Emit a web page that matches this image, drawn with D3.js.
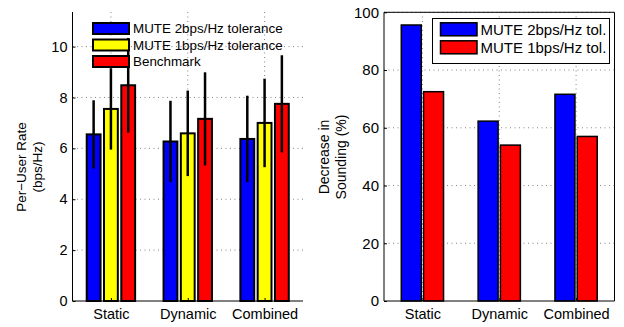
<!DOCTYPE html>
<html>
<head>
<meta charset="utf-8">
<script src="https://cdn.jsdelivr.net/npm/d3@7"></script>
<style>
  body { margin: 0; background: #fff; }
  svg { display: block; font-family: "Liberation Sans", Arial, sans-serif; }
</style>
</head>
<body>
<svg id="chart" width="624" height="327"></svg>
<script>
// categories shared by both panels
const categories = ["Static", "Dynamic", "Combined"];

// left panel: per-user rate (mean +/- std)
const rateSeries = ["MUTE 2bps/Hz tolerance", "MUTE 1bps/Hz tolerance", "Benchmark"];
const rateColors = ["#0000ff", "#ffff00", "#ff0000"];
const rateMean = [
  [6.55, 6.27, 6.37],
  [7.55, 6.59, 7.00],
  [8.48, 7.16, 7.75]
];
const rateErr = [
  [1.34, 1.60, 1.70],
  [1.60, 1.68, 1.74],
  [1.86, 1.83, 1.91]
];
const rateTicks = [0, 2, 4, 6, 8, 10];

// right panel: decrease in sounding (%)
const soundSeries = ["MUTE 2bps/Hz tol.", "MUTE 1bps/Hz tol."];
const soundColors = ["#0000ff", "#ff0000"];
const soundValues = [
  [95.6, 62.3, 71.6],
  [72.5, 54.0, 57.0]
];
const soundTicks = [0, 20, 40, 60, 80, 100];

const svg = d3.select("#chart");

function gridLines(g, x, y, xTicks, yTicks, x0, x1, y0, y1) {
  const grid = g.append("g")
    .attr("stroke", "#666")
    .attr("stroke-width", 0.8)
    .attr("stroke-dasharray", "1,3.5");
  grid.selectAll("line.h").data(yTicks.filter(t => t > 0)).join("line")
    .attr("x1", x0).attr("x2", x1)
    .attr("y1", d => y(d)).attr("y2", d => y(d));
  grid.selectAll("line.v").data(xTicks).join("line")
    .attr("x1", d => x(d)).attr("x2", d => x(d))
    .attr("y1", y0).attr("y2", y1);
}

function styleAxis(a, size) {
  a.attr("font-size", null).attr("font-family", null);
  a.selectAll(".domain").attr("stroke", "#000").attr("stroke-width", 1);
  a.selectAll("text")
    .style("font-size", size + "px")
    .style("font-family", "'Liberation Sans', Arial, sans-serif")
    .attr("fill", "#000");
}

// ---------- left panel ----------
{
  const left = 72.5, right = 303, top = 12, bottom = 301;
  const x = d3.scaleLinear().domain([0.5, 3.5]).range([left, right]);
  const y = d3.scaleLinear().domain([0, 11.36]).range([bottom, top]);
  const g = svg.append("g");
  const idx = categories.map((c, i) => i + 1);

  gridLines(g, x, y, idx, rateTicks, left, right, bottom, top);

  const bw = 0.18, step = 0.225;
  rateMean.forEach((vals, s) => {
    g.append("g").selectAll("rect").data(vals).join("rect")
      .attr("x", (d, i) => x(i + 1 + (s - 1) * step - bw / 2))
      .attr("width", x(bw) - x(0))
      .attr("y", d => y(d))
      .attr("height", d => y(0) - y(d))
      .attr("fill", rateColors[s])
      .attr("stroke", "#000")
      .attr("stroke-width", 2);
  });
  rateMean.forEach((vals, s) => {
    g.append("g").selectAll("line").data(vals).join("line")
      .attr("x1", (d, i) => x(i + 1 + (s - 1) * step))
      .attr("x2", (d, i) => x(i + 1 + (s - 1) * step))
      .attr("y1", (d, i) => y(d - rateErr[s][i]))
      .attr("y2", (d, i) => y(d + rateErr[s][i]))
      .attr("stroke", "#000")
      .attr("stroke-width", 2.5);
  });

  // axes
  const ya = g.append("g").attr("transform", `translate(${left},0)`)
    .call(d3.axisLeft(y).tickValues(rateTicks).tickSize(-3).tickPadding(5));
  ya.select(".domain").attr("d", `M0,${bottom}V${top}`);
  const xa = g.append("g").attr("transform", `translate(0,${bottom})`)
    .call(d3.axisBottom(x).tickValues(idx).tickFormat((d, i) => categories[i]).tickSize(-3).tickPadding(8));
  xa.select(".domain").attr("d", `M${left},0H${right}`);
  styleAxis(ya, 14.5);
  styleAxis(xa, 14.5);

  g.append("text")
    .attr("transform", "translate(26,167) rotate(-90)")
    .attr("text-anchor", "middle").attr("font-size", 13.5)
    .selectAll("tspan").data(["Per\u2212User Rate", "(bps/Hz)"]).join("tspan")
    .attr("x", 0).attr("dy", (d, i) => i === 0 ? 0 : 16)
    .text(d => d);

  // legend (no frame)
  const lg = g.append("g");
  rateSeries.forEach((name, s) => {
    const cy = 28.5 + s * 16.5;
    lg.append("rect")
      .attr("x", 93).attr("y", cy - 5.5).attr("width", 36).attr("height", 11)
      .attr("fill", rateColors[s]).attr("stroke", "#000").attr("stroke-width", 2);
    lg.append("text")
      .attr("x", 133).attr("y", cy).attr("dy", "0.35em")
      .attr("font-size", 13.4).text(name);
  });
}

// ---------- right panel ----------
{
  const left = 384, right = 614.5, top = 12.3, bottom = 301;
  const x = d3.scaleLinear().domain([0.5, 3.5]).range([left, right]);
  const y = d3.scaleLinear().domain([0, 100]).range([bottom, top]);
  const g = svg.append("g");
  const idx = categories.map((c, i) => i + 1);

  gridLines(g, x, y, idx, soundTicks, left, right, bottom, top);

  const bw = 0.26, off = 0.145;
  soundValues.forEach((vals, s) => {
    g.append("g").selectAll("rect").data(vals).join("rect")
      .attr("x", (d, i) => x(i + 1 + (s === 0 ? -off : off) - bw / 2))
      .attr("width", x(bw) - x(0))
      .attr("y", d => y(d))
      .attr("height", d => y(0) - y(d))
      .attr("fill", soundColors[s])
      .attr("stroke", "#000")
      .attr("stroke-width", 1.5);
  });

  const ya = g.append("g").attr("transform", `translate(${left},0)`)
    .call(d3.axisLeft(y).tickValues(soundTicks).tickSize(-3).tickPadding(5));
  const xa = g.append("g").attr("transform", `translate(0,${bottom})`)
    .call(d3.axisBottom(x).tickValues(idx).tickFormat((d, i) => categories[i]).tickSize(-3).tickPadding(8));
  ya.select(".domain").attr("d", `M0,${bottom}V${top}`);
  xa.select(".domain").attr("d", `M${left},0H${right}`);
  styleAxis(ya, 15);
  styleAxis(xa, 14.5);
  // box top / right
  g.append("path")
    .attr("d", `M${left},${top}H${right}V${bottom}`)
    .attr("fill", "none").attr("stroke", "#000").attr("stroke-width", 1);

  g.append("text")
    .attr("transform", "translate(329,157) rotate(-90)")
    .attr("text-anchor", "middle").attr("font-size", 14)
    .selectAll("tspan").data(["Decrease in", "Sounding (%)"]).join("tspan")
    .attr("x", 0).attr("dy", (d, i) => i === 0 ? 0 : 17)
    .text(d => d);

  const lg = g.append("g");
  lg.append("rect")
    .attr("x", 432.5).attr("y", 18.5).attr("width", 177).attr("height", 45)
    .attr("fill", "#fff").attr("stroke", "#000").attr("stroke-width", 1);
  soundSeries.forEach((name, s) => {
    const cy = 29.3 + s * 18;
    lg.append("rect")
      .attr("x", 440.5).attr("y", cy - 6.5).attr("width", 36.5).attr("height", 13)
      .attr("fill", soundColors[s]).attr("stroke", "#000").attr("stroke-width", 1.5);
    lg.append("text")
      .attr("x", 480.5).attr("y", cy).attr("dy", "0.35em")
      .attr("font-size", 15).text(name);
  });
}
</script>
</body>
</html>
